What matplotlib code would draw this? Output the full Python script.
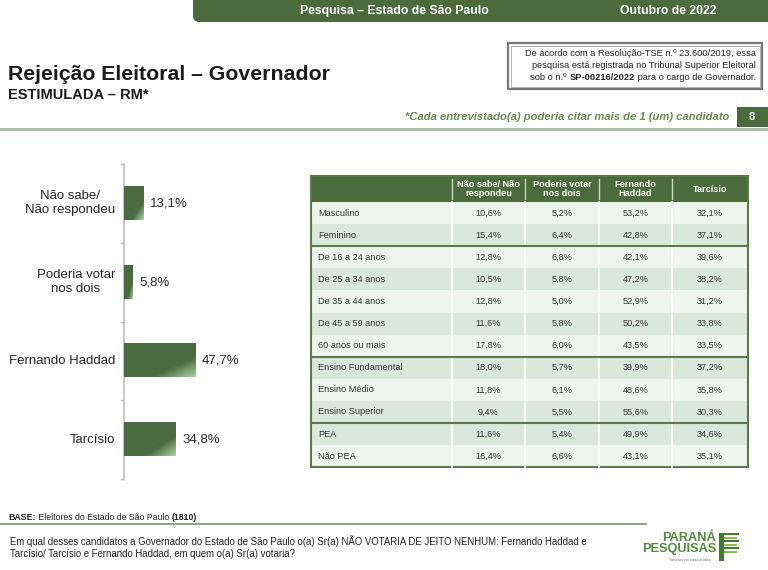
import matplotlib
matplotlib.use("Agg")
import matplotlib.pyplot as plt
import numpy as np
from matplotlib.patches import Rectangle, FancyBboxPatch

# ---- data ----
categories = ["Não sabe/\nNão respondeu", "Poderia votar\nnos dois", "Fernando Haddad", "Tarcísio"]
values = [13.1, 5.8, 47.7, 34.8]

col_headers = ["Não sabe/ Não\nrespondeu", "Poderia votar\nnos dois", "Fernando\nHaddad", "Tarcísio"]
row_labels = ["Masculino", "Feminino", "De 16 a 24 anos", "De 25 a 34 anos", "De 35 a 44 anos",
              "De 45 a 59 anos", "60 anos ou mais", "Ensino Fundamental", "Ensino Médio",
              "Ensino Superior", "PEA", "Não PEA"]
nao_sabe = [10.6, 15.4, 12.8, 10.5, 12.8, 11.6, 17.8, 18.0, 11.8, 9.4, 11.6, 16.4]
ambos = [5.2, 6.4, 6.8, 5.8, 5.0, 5.8, 6.0, 5.7, 6.1, 5.5, 5.4, 6.6]
haddad = [53.2, 42.8, 42.1, 47.2, 52.9, 50.2, 43.5, 39.9, 48.6, 55.6, 49.9, 43.1]
tarcisio = [32.1, 37.1, 39.6, 38.2, 31.2, 33.8, 33.5, 37.2, 35.8, 30.3, 34.6, 35.1]
group_ends = [1, 6, 9]  # separator after these rows

# ---- styles ----
GREEN = "#4b6b3d"
LIGHT = "#eef5ef"
DARK = "#dae8dc"
shade = [0, 1, 0, 1, 0, 1, 0, 1, 0, 1, 1, 0]
SANS = ["Liberation Sans", "DejaVu Sans"]
INK = "#222222"

W, H = 768, 570
fig = plt.figure(figsize=(W / 100, H / 100), dpi=100)
bg = fig.add_axes([0, 0, 1, 1])
bg.set_xlim(0, W)
bg.set_ylim(H, 0)
bg.axis("off")
renderer = fig.canvas.get_renderer()


def runs(x, y, parts, size, ha="left", **kw):
    """Draw text runs (text, bold) one after another on one line."""
    texts = [bg.text(0, y, s, fontsize=size, family=SANS, color=INK, va="center",
                     fontweight="bold" if b else "normal", **kw) for s, b in parts]
    widths = [t.get_window_extent(renderer).width for t in texts]
    cur = x - sum(widths) if ha == "right" else x
    for t, w in zip(texts, widths):
        t.set_x(cur)
        cur += w


# top banner
bg.add_patch(FancyBboxPatch((193, -20), 600, 42, boxstyle="round,pad=0,rounding_size=6",
                            fc=GREEN, ec="none"))
bg.text(300, 11, "Pesquisa – Estado de São Paulo", color="white", fontsize=8.8,
        fontweight="bold", family=SANS, va="center")
bg.text(620, 11, "Outubro de 2022", color="white", fontsize=8.8,
        fontweight="bold", family=SANS, va="center")

# titles
bg.text(8, 80, "Rejeição Eleitoral – Governador", fontsize=15.3, fontweight="bold",
        family=SANS, color="#1a1a1a", va="baseline")
bg.text(8, 99, "ESTIMULADA – RM*", fontsize=10.5, fontweight="bold",
        family=SANS, color="#1a1a1a", va="baseline")

# registration box
bg.add_patch(Rectangle((508, 43), 254, 46, fc="white", ec="#777777", lw=1.6))
bg.add_patch(Rectangle((510.5, 45.5), 249, 41, fc="none", ec="#aaaaaa", lw=0.6))
runs(756, 54, [("De acordo com a Resolução-TSE n.º 23.600/2019, essa", False)], 6.7, ha="right")
runs(756, 65.5, [("pesquisa está registrada no Tribunal Superior Eleitoral", False)], 6.7, ha="right")
runs(756, 77, [("sob o n.º ", False), ("SP-00216/2022", True),
               (" para o cargo de Governador.", False)], 6.7, ha="right")

# note + page number
bg.text(729, 117, "*Cada entrevistado(a) poderia citar mais de 1 (um) candidato",
        fontsize=8.1, fontstyle="italic", fontweight="bold", family=SANS,
        color="#6a8a52", ha="right", va="center")
bg.add_patch(Rectangle((737, 107), 31, 20, fc=GREEN, ec="none"))
bg.text(752, 117, "8", color="white", fontsize=8, fontweight="bold", family=SANS,
        ha="center", va="center")
bg.plot([0, W], [129, 129], color="#b3bdab", lw=2.2)

# ---- bar chart ----
ax_left, ax_top, ax_bot = 124, 164, 479
px_per = 1.494
ax = fig.add_axes([ax_left / W, 1 - ax_bot / H, 100 * px_per / W, (ax_bot - ax_top) / H])
ax.axis("off")
n = len(values)
ax.plot([0, 0], [-0.5, n - 0.5], color="#bfbfbf", lw=1.2, clip_on=False)
for b in np.arange(-0.5, n, 1.0):
    ax.plot([-2.2, 0], [b, b], color="#bfbfbf", lw=1.0, clip_on=False)

gx, gy = np.meshgrid(np.linspace(0, 1, 60), np.linspace(0, 1, 30))
grad = np.clip((gx + gy - 1.4) / 0.6, 0, 1)
cmap = matplotlib.colors.LinearSegmentedColormap.from_list("g", ["#4a6b40", "#a9d1a2"])
bh = 0.21
for i, (c, v) in enumerate(zip(categories, values)):
    ax.imshow(grad, cmap=cmap, extent=(0, v, i + bh, i - bh), aspect="auto",
              origin="upper", zorder=2, vmin=0, vmax=1, interpolation="bilinear")
    ax.text(v + 4.5, i, f"{v:.1f}%".replace(".", ","), fontsize=9.5, family=SANS,
            color="#262626", va="center", ha="left")
    ax.text(-6, i, c, fontsize=9.5, family=SANS, color="#262626", va="center",
            ha="right", multialignment="center", linespacing=1.25)
ax.set_xlim(0, 100)
ax.set_ylim(n - 0.5, -0.5)

# ---- table ----
tx = [311, 452, 525, 599, 672, 748]
top, head_h, row_h = 176, 26, 22.1
bg.add_patch(Rectangle((tx[0], top), tx[-1] - tx[0], head_h, fc=GREEN, ec="none"))
for j, h in enumerate(col_headers):
    bg.text((tx[j + 1] + tx[j + 2]) / 2, top + head_h / 2, h, color="white", fontsize=6.6,
            fontweight="bold", family=SANS, ha="center", va="center", linespacing=1.1)
    bg.plot([tx[j + 1], tx[j + 1]], [top + 3, top + head_h - 3], color="#c8d8c0", lw=1)

cols = [nao_sabe, ambos, haddad, tarcisio]
for i, lab in enumerate(row_labels):
    y0 = top + head_h + i * row_h
    bg.add_patch(Rectangle((tx[0], y0), tx[-1] - tx[0], row_h,
                           fc=DARK if shade[i] else LIGHT, ec="none"))
    bg.text(tx[0] + 7, y0 + row_h / 2, lab, fontsize=6.6, family=SANS, color="#333333",
            va="center", ha="left")
    for j, col in enumerate(cols):
        bg.text((tx[j + 1] + tx[j + 2]) / 2, y0 + row_h / 2, f"{col[i]:.1f}%".replace(".", ","),
                fontsize=6.6, family=SANS, color="#333333", va="center", ha="center")
bottom = top + head_h + len(row_labels) * row_h
for x in tx[1:-1]:
    bg.plot([x, x], [top + head_h, bottom], color="white", lw=1.2)
for g in group_ends:
    yy = top + head_h + (g + 1) * row_h
    bg.plot([tx[0], tx[-1]], [yy, yy], color="#5b7a4b", lw=1.5)
bg.add_patch(Rectangle((tx[0], top), tx[-1] - tx[0], bottom - top, fc="none",
                       ec="#5b7a4b", lw=1.5))

# ---- footer ----
runs(8, 517, [("BASE:", True), (" Eleitores do Estado de São Paulo ", False), ("(1810)", True)], 6.3)
bg.plot([0, 646], [524, 524], color="#6b8a5a", lw=1.1)
bg.text(10, 541, "Em qual desses candidatos a Governador do Estado de São Paulo o(a) Sr(a) "
        "NÃO VOTARIA DE JEITO NENHUM: Fernando Haddad e", fontsize=6.95, family=SANS,
        color=INK, va="center")
bg.text(10, 554, "Tarcísio/ Tarcísio e Fernando Haddad, em quem o(a) Sr(a) votaria?",
        fontsize=6.95, family=SANS, color=INK, va="center")

# logo
LOGO = "#4f8a3c"
bg.text(716, 538, "PARANÁ", fontsize=9.2, fontweight="bold", family=SANS, color=LOGO,
        ha="right", va="center")
bg.text(716, 549, "PESQUISAS", fontsize=9.2, fontweight="bold", family=SANS, color=LOGO,
        ha="right", va="center")
for k in range(6):
    bg.add_patch(Rectangle((719, 533 + k * 3.5), 20 - (k % 2) * 2, 2.4,
                           fc=["#3f7a30", "#8cc04a"][k % 2], ec="none"))
bg.add_patch(Rectangle((719, 533), 5, 28, fc="#3f7a30", ec="none"))
bg.text(690, 560, "Tomados em conta pública", fontsize=2.5, family=SANS, color="#666666",
        ha="center", va="center")

fig.savefig("out.png", dpi=100)
